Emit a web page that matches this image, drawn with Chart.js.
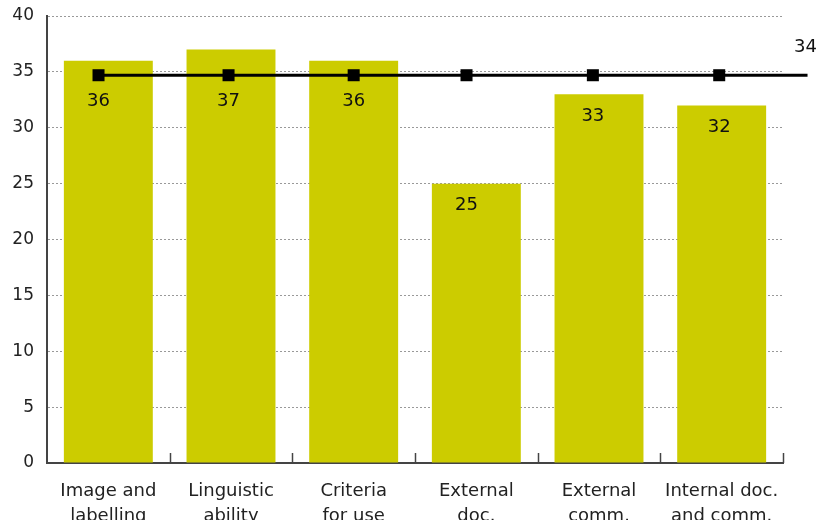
<!DOCTYPE html>
<html>
<head>
<meta charset="utf-8">
<script src="https://cdn.jsdelivr.net/npm/chart.js@4.4.1/dist/chart.umd.min.js"></script>
<style>
  html, body { margin: 0; padding: 0; background: #fff; }
  #wrap { width: 817px; height: 520px; position: relative; }
</style>
</head>
<body>
<div id="wrap"><canvas id="c" width="817" height="520"></canvas></div>
<script>
const categories = [
  ["Image and", "labelling"],
  ["Linguistic", "ability"],
  ["Criteria", "for use"],
  ["External", "doc."],
  ["External", "comm."],
  ["Internal doc.", "and comm."]
];
const barValues = [36, 37, 36, 25, 33, 32];
const barLabels = ["36", "37", "36", "25", "33", "32"];
// average line: positions along the category axis (in category units) and values
const avgPositions = [0.42, 1.48, 2.5, 3.42, 4.45, 5.48, 6.2];
const avgValues = [34.7, 34.7, 34.7, 34.7, 34.7, 34.7, 34.7];
const avgLabel = "34";
const yMin = 0, yMax = 40, yStep = 5;

const FONT = "'DejaVu Sans', Verdana, sans-serif";

const overlay = {
  id: 'overlay',
  afterDatasetsDraw(chart) {
    const ctx = chart.ctx;
    const xs = chart.scales.x;
    const area = chart.chartArea;
    ctx.save();
    ctx.strokeStyle = '#444';
    ctx.lineWidth = 1.5;
    for (let i = 0; i < categories.length; i++) {
      const x = Math.round(xs.getPixelForValue(i + 0.5)) + 0.5;
      ctx.beginPath();
      ctx.moveTo(x, area.bottom);
      ctx.lineTo(x, area.bottom - 10);
      ctx.stroke();
    }
    ctx.restore();

    const barMeta = chart.getDatasetMeta(0);
    const lineMeta = chart.getDatasetMeta(1);
    ctx.save();
    ctx.fillStyle = '#111';
    ctx.font = '18px ' + FONT;
    ctx.textAlign = 'center';
    ctx.textBaseline = 'middle';
    barMeta.data.forEach((bar, i) => {
      const pt = lineMeta.data[i];
      const y = Math.max(bar.y + 22, pt.y + 26);
      ctx.fillText(barLabels[i], pt.x, y);
    });
    const last = lineMeta.data[lineMeta.data.length - 1];
    ctx.fillText(avgLabel, last.x - 2, last.y - 28);
    ctx.restore();
  }
};

new Chart(document.getElementById('c'), {
  type: 'bar',
  data: {
    labels: categories,
    datasets: [
      {
        type: 'bar',
        data: barValues,
        backgroundColor: '#cccc00',
        borderWidth: 0,
        grouped: false,
        categoryPercentage: 1,
        barPercentage: 0.725,
        order: 1
      },
      {
        type: 'line',
        xAxisID: 'xl',
        data: avgPositions.map((p, i) => ({ x: p, y: avgValues[i] })),
        borderColor: '#000',
        borderWidth: 3,
        pointStyle: 'rect',
        pointRadius: 8.5,
        pointBackgroundColor: '#000',
        pointBorderWidth: 0,
        tension: 0,
        clip: false,
        order: 0
      }
    ]
  },
  options: {
    responsive: false,
    animation: false,
    events: [],
    layout: { autoPadding: false, padding: { left: 0, right: 34, top: 16, bottom: 0 } },
    plugins: { legend: { display: false }, tooltip: { enabled: false } },
    scales: {
      x: {
        type: 'category',
        offset: true,
        grid: { display: false },
        border: { display: true, color: '#444', width: 2 },
        ticks: {
          color: '#222',
          font: { family: FONT, size: 18, lineHeight: 1.39 },
          maxRotation: 0,
          autoSkip: false,
          padding: 8
        },
        afterFit(s) { s.height = 57; s.paddingLeft = 0; s.paddingRight = 0; }
      },
      xl: {
        type: 'linear',
        display: false,
        offset: false,
        min: 0,
        max: categories.length
      },
      y: {
        min: yMin,
        max: yMax,
        ticks: {
          stepSize: yStep,
          color: '#222',
          font: { family: FONT, size: 17 },
          padding: 13
        },
        grid: { color: '#999', lineWidth: 1, drawTicks: false },
        border: { display: true, color: '#444', width: 2, dash: [2, 2] },
        afterFit(s) { s.width = 47; s.paddingTop = 0; s.paddingBottom = 0; }
      }
    }
  },
  plugins: [overlay]
});
</script>
</body>
</html>
